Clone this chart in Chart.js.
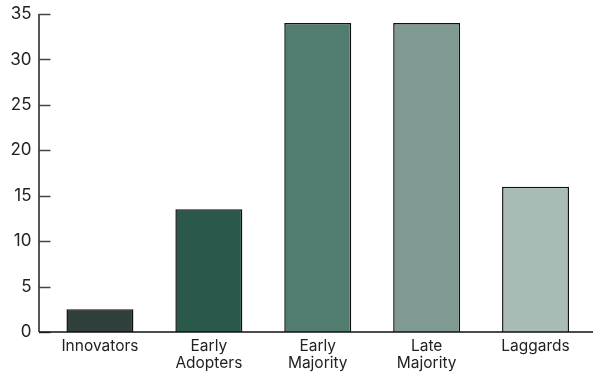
<!DOCTYPE html>
<html>
<head>
<meta charset="utf-8">
<script src="https://cdn.jsdelivr.net/npm/chart.js@4/dist/chart.umd.min.js"></script>
<style>
  html, body { margin: 0; padding: 0; background: #fff; }
  #wrap { width: 593px; height: 372px; position: relative; }
</style>
</head>
<body>
<div id="wrap"><canvas id="c" width="593" height="372"></canvas></div>
<script>
const categories = [["Innovators"], ["Early", "Adopters"], ["Early", "Majority"], ["Late", "Majority"], ["Laggards"]];
const values = [2.5, 13.5, 34, 34, 16];
const barColors = ["#2f3f3b", "#2a584b", "#527c6f", "#7f9a92", "#a8bcb5"];
const yTicks = [0, 5, 10, 15, 20, 25, 30, 35];

const axisPlugin = {
  id: 'axisPlugin',
  afterDraw(chart) {
    const ctx = chart.ctx;
    const y = chart.scales.y;
    const area = chart.chartArea;
    const ax = area.left - 6.5;
    ctx.save();
    ctx.strokeStyle = '#555';
    ctx.lineWidth = 2;
    ctx.beginPath();
    ctx.moveTo(ax, y.getPixelForValue(35));
    ctx.lineTo(ax, y.getPixelForValue(0));
    ctx.stroke();
    ctx.lineWidth = 1.5;
    ctx.strokeStyle = '#444';
    yTicks.forEach(v => {
      const py = Math.round(y.getPixelForValue(v)) + 0.5;
      ctx.beginPath();
      ctx.moveTo(ax, py);
      ctx.lineTo(ax + 11.5, py);
      ctx.stroke();
    });
    ctx.strokeStyle = '#111';
    ctx.lineWidth = 1.5;
    const py0 = y.getPixelForValue(0);
    ctx.beginPath();
    ctx.moveTo(ax, py0);
    ctx.lineTo(chart.width, py0);
    ctx.stroke();
    ctx.restore();
  }
};

new Chart(document.getElementById('c'), {
  type: 'bar',
  data: {
    labels: categories,
    datasets: [{
      data: values,
      backgroundColor: barColors,
      borderColor: '#111',
      borderWidth: 1.5,
      categoryPercentage: 1,
      barPercentage: 0.615
    }]
  },
  options: {
    responsive: false,
    animation: false,
    layout: { padding: { top: 14, right: 3, left: 0, bottom: 0 } },
    plugins: { legend: { display: false }, tooltip: { enabled: false } },
    scales: {
      x: {
        grid: { display: false, drawTicks: false },
        border: { display: false },
        ticks: {
          color: '#222',
          font: { family: 'Inter', size: 15.5, lineHeight: 1.12 },
          padding: 5.5,
          maxRotation: 0,
          autoSkip: false
        },
        afterFit(s) { s.height = 40; }
      },
      y: {
        min: 0,
        max: 35,
        grid: { display: false, drawTicks: true, tickLength: 14 },
        border: { display: false },
        ticks: {
          stepSize: 5,
          color: '#222',
          font: { family: 'Inter', size: 17, lineHeight: 1.1 },
          padding: 0
        },
        afterFit(s) { s.width = 45.5; }
      }
    }
  },
  plugins: [axisPlugin]
});
</script>
</body>
</html>
